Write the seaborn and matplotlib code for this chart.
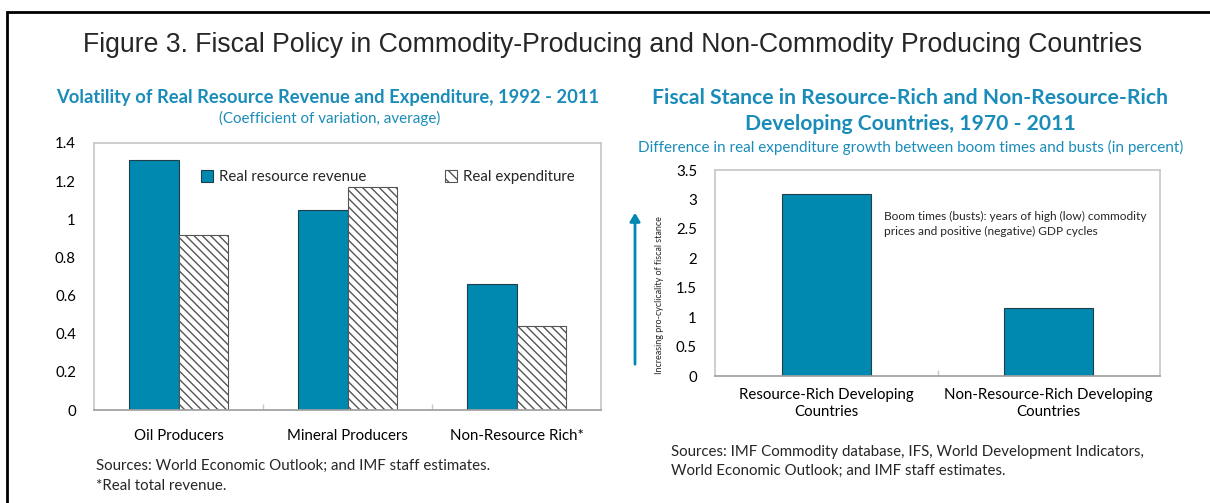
import numpy as np
import pandas as pd
import matplotlib
matplotlib.use("Agg")
import matplotlib.pyplot as plt
import seaborn as sns
from matplotlib.patches import Rectangle, FancyArrowPatch, Patch

sns.set_theme(style="white")
plt.rcParams['font.family'] = ['Lato', 'DejaVu Sans']

# data
groups = ["Oil Producers", "Mineral Producers", "Non-Resource Rich*"]
revenue = [1.31, 1.05, 0.66]
expenditure = [0.92, 1.17, 0.44]
series = ["Real resource revenue", "Real expenditure"]

stance_cats = ["Resource-Rich Developing\nCountries", "Non-Resource-Rich Developing\nCountries"]
stance_vals = [3.1, 1.15]

teal = "#0089b0"
title_blue = "#1a8cba"
W, H = 1210, 503

fig = plt.figure(figsize=(W / 100, H / 100), dpi=100)


def px(x, y):
    return x / W, 1 - y / H


def ax_rect(x0, y0, x1, y1):
    return [x0 / W, 1 - y1 / H, (x1 - x0) / W, (y1 - y0) / H]


def style_axes(ax):
    ax.set_xlabel("")
    ax.set_ylabel("")
    ax.tick_params(axis="both", which="major", labelsize=10.8, colors="black", length=0)
    ax.tick_params(axis="y", which="major", length=3, color="#c8c8c8", pad=10)
    ax.tick_params(axis="x", which="minor", direction="in", length=4, color="#c8c8c8", bottom=True)
    for s in ax.spines.values():
        s.set_color("#c8c8c8")
    ax.spines["bottom"].set_color("#a0a0a0")


# outer frame
fig.patches.append(Rectangle(px(7, 600), 1300 / W, (600 - 12) / H, transform=fig.transFigure,
                             fill=False, edgecolor="black", linewidth=2))

fig.text(*px(613, 45), "Figure 3. Fiscal Policy in Commodity-Producing and Non-Commodity Producing Countries",
         ha="center", va="center", fontsize=19.2, family="Liberation Sans")

# ---- left panel
df = pd.DataFrame({
    "group": groups * 2,
    "series": [series[0]] * 3 + [series[1]] * 3,
    "value": revenue + expenditure,
})
ax1 = fig.add_axes(ax_rect(94, 143, 601, 410))
sns.barplot(data=df, x="group", y="value", hue="series", ax=ax1, width=0.58,
            palette=[teal, "white"], saturation=1, legend=False)
for p in ax1.containers[0]:
    p.set_edgecolor("#1f3f4a")
    p.set_linewidth(0.8)
for p in ax1.containers[1]:
    p.set_hatch("\\\\\\\\")
    p.set_edgecolor("#555555")
    p.set_linewidth(0.8)
ax1.set_ylim(0, 1.4)
ax1.set_xlim(-0.5, 2.5)
ax1.set_yticks(np.arange(0, 1.41, 0.2))
ax1.set_yticklabels(["0", "0.2", "0.4", "0.6", "0.8", "1", "1.2", "1.4"])
ax1.set_xticks([0.5, 1.5], minor=True)
style_axes(ax1)
ax1.tick_params(axis="x", which="major", pad=14)
handles = [Patch(facecolor=teal, edgecolor="#1f3f4a", linewidth=0.8, label=series[0]),
           Patch(facecolor="white", edgecolor="#555555", linewidth=0.8, hatch="\\\\\\", label=series[1])]
ax1.legend(handles=handles, loc="upper left", bbox_to_anchor=(0.2, 0.92), ncol=2, frameon=False,
           fontsize=10.8, handlelength=0.8, handleheight=0.8, handletextpad=0.4,
           columnspacing=5.2, borderaxespad=0)

fig.text(*px(328, 97), "Volatility of Real Resource Revenue and Expenditure, 1992 - 2011",
         ha="center", va="center", fontsize=13.2, weight="bold", color=title_blue)
fig.text(*px(330, 118), "(Coefficient of variation, average)",
         ha="center", va="center", fontsize=10.9, color=title_blue)
fig.text(*px(96, 466), "Sources: World Economic Outlook; and IMF staff estimates.",
         ha="left", va="center", fontsize=10.8)
fig.text(*px(96, 486), "*Real total revenue.", ha="left", va="center", fontsize=10.8)

# ---- right panel
df2 = pd.DataFrame({"cat": stance_cats, "value": stance_vals})
ax2 = fig.add_axes(ax_rect(715, 170, 1160, 376))
sns.barplot(data=df2, x="cat", y="value", ax=ax2, color=teal, saturation=1, width=0.4)
for p in ax2.patches:
    p.set_edgecolor("#1f3f4a")
    p.set_linewidth(0.8)
ax2.set_ylim(0, 3.5)
ax2.set_xlim(-0.5, 1.5)
ax2.set_yticks(np.arange(0, 3.51, 0.5))
ax2.set_yticklabels(["0", "0.5", "1", "1.5", "2", "2.5", "3", "3.5"])
ax2.set_xticks([0.5], minor=True)
style_axes(ax2)
ax2.tick_params(axis="x", which="major", pad=9)
ax2.text(0.38, 0.80, "Boom times (busts): years of high (low) commodity\nprices and positive (negative) GDP cycles",
         transform=ax2.transAxes, ha="left", va="top", fontsize=8.6, linespacing=1.45)

fig.text(*px(910, 98), "Fiscal Stance in Resource-Rich and Non-Resource-Rich",
         ha="center", va="center", fontsize=15.2, weight="bold", color=title_blue)
fig.text(*px(910, 124), "Developing Countries, 1970 - 2011",
         ha="center", va="center", fontsize=15.2, weight="bold", color=title_blue)
fig.text(*px(911, 147), "Difference in real expenditure growth between boom times and busts (in percent)",
         ha="center", va="center", fontsize=11, color=title_blue)

fig.patches.append(FancyArrowPatch(
    px(635, 367), px(635, 210), transform=fig.transFigure, arrowstyle="-|>,head_width=3,head_length=5",
    color=teal, linewidth=2))
fig.text(*px(659, 295), "Increasing pro-cyclicality of fiscal stance", rotation=90,
         ha="center", va="center", fontsize=6.5)

fig.text(*px(671, 452), "Sources: IMF Commodity database, IFS, World Development Indicators,",
         ha="left", va="center", fontsize=10.8)
fig.text(*px(671, 471), "World Economic Outlook; and IMF staff estimates.",
         ha="left", va="center", fontsize=10.8)

fig.savefig("out.png", dpi=100)
